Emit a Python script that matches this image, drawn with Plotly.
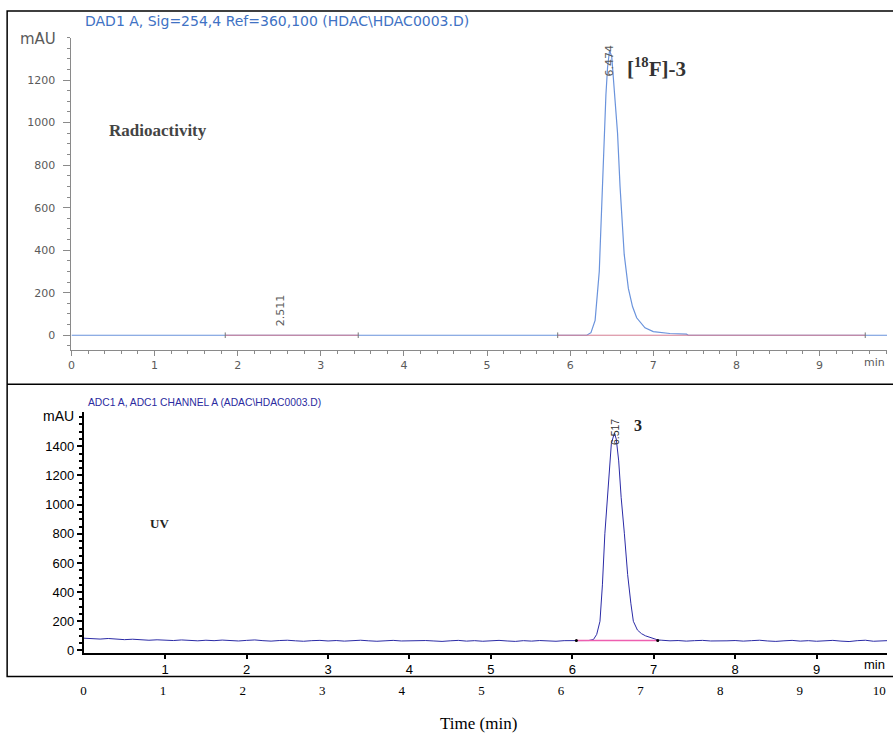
import numpy as np
import plotly.graph_objects as go

W, H = 893, 733

# ---------------- data ----------------
# Radioactivity trace (top panel)
rad_time = [0.0, 1.85, 2.511, 3.45, 5.85, 6.20, 6.25, 6.30, 6.35, 6.40, 6.43, 6.45, 6.474, 6.50,
            6.53, 6.57, 6.60, 6.65, 6.70, 6.75, 6.80, 6.90, 7.00, 7.20, 7.40, 7.42, 9.9]
rad_mau = [0, 0, 1, 0, 0, 0, 12, 70, 300, 850, 1130, 1260, 1340, 1310,
           1170, 950, 700, 380, 220, 135, 82, 35, 17, 8, 5, 0, 0]
rad_baselines = [(1.85, 3.45), (5.85, 9.55)]
rad_peaks = [(2.511, "2.511", 118), (6.474, "6.474", 1290)]

# UV trace (bottom panel)
uv_base_time = np.round(np.arange(0, 9.95, 0.1), 2)
uv_base_mau = [84, 80, 78, 82, 76, 74, 77, 72, 70, 73,
               71, 68, 72, 69, 66, 70, 67, 71, 68, 65,
               69, 72, 67, 64, 68, 70, 66, 63, 67, 69,
               65, 68, 64, 67, 70, 66, 63, 66, 69, 65,
               67, 64, 68, 65, 62, 66, 69, 64, 67, 63,
               66, 69, 65, 62, 67, 64, 68, 65, 63, 67,
               66, 70, 68, 69, 67, 66, 70, 68, 67, 69,
               71, 70, 66, 68, 64, 67, 69, 65, 63, 66,
               68, 64, 67, 70, 65, 62, 66, 69, 64, 67,
               63, 66, 69, 64, 61, 67, 70, 63, 66, 68]
uv_peak_time = [6.20, 6.26, 6.30, 6.34, 6.37, 6.40, 6.44, 6.48, 6.517, 6.54, 6.57, 6.60, 6.64,
                6.68, 6.72, 6.75, 6.80, 6.85, 6.90, 6.95, 7.00, 7.05]
uv_peak_mau = [68, 75, 110, 200, 450, 800, 1150, 1420, 1490, 1450, 1300, 1050, 800,
               520, 320, 200, 140, 115, 100, 90, 80, 72]
uv_baseline = (6.05, 7.05, 68)
uv_peak = (6.517, "6.517", 1500)

top_yticks = [0, 200, 400, 600, 800, 1000, 1200]
bot_yticks = [0, 200, 400, 600, 800, 1000, 1200, 1400]
top_xticks = [0, 1, 2, 3, 4, 5, 6, 7, 8, 9]
bot_xticks = [1, 2, 3, 4, 5, 6, 7, 8, 9]
time_ticks = [0, 1, 2, 3, 4, 5, 6, 7, 8, 9, 10]

# ---------------- geometry helpers ----------------
# the photographed page comes out slightly shrunk; map target pixels to layout pixels
SC = 0.9925

def rx(x):
    return (x - 3.35) / SC

def ry(y):
    return y / SC

def px(x):
    return rx(x) / W

def py(y):
    return 1 - ry(y) / H

# top panel axes
tx0, tx9 = rx(72), rx(822)
tsx = (tx9 - tx0) / 9
ty0, ty1200 = ry(335), ry(80)
tsy = (ty0 - ty1200) / 1200
top_xrange = [0, (W - tx0) / tsx]
top_ydom = [1 - ry(350) / H, 1 - ry(37.5) / H]
top_yrange = [-(ry(350) - ty0) / tsy, (ty0 - ry(37.5)) / tsy]

# bottom panel axes
bx1, bx9 = rx(166), rx(819)
bsx = (bx9 - bx1) / 8
bx0 = bx1 - bsx
by0, by1400 = ry(650), ry(446)
bsy = (by0 - by1400) / 1400
bot_xrange = [0, (W - bx0) / bsx]
bot_ydom = [1 - ry(652.2) / H, 1 - ry(411.4) / H]
bot_yrange = [-(ry(652.2) - by0) / bsy, (by0 - ry(411.4)) / bsy]

fig = go.Figure()

# top trace
fig.add_trace(go.Scatter(x=rad_time, y=rad_mau, mode="lines",
                         line=dict(color="#6a93dc", width=1.2),
                         xaxis="x", yaxis="y", hoverinfo="skip"))
for a, b in rad_baselines:
    fig.add_trace(go.Scatter(x=[a, b], y=[0, 0], mode="lines",
                             line=dict(color="#d47d92", width=1),
                             xaxis="x", yaxis="y", hoverinfo="skip"))
fig.add_trace(go.Scatter(x=[e for ab in rad_baselines for e in ab], y=[0] * 4,
                         mode="markers", marker=dict(symbol="line-ns", size=4,
                                                     line=dict(color="#777", width=1)),
                         xaxis="x", yaxis="y", hoverinfo="skip"))

# bottom trace
bt = list(uv_base_time)
uv_t = [t for t in bt if t < uv_peak_time[0]] + uv_peak_time + [t for t in bt if t > uv_peak_time[-1]]
uv_v = [v for t, v in zip(bt, uv_base_mau) if t < uv_peak_time[0]] + uv_peak_mau + \
       [v for t, v in zip(bt, uv_base_mau) if t > uv_peak_time[-1]]
fig.add_trace(go.Scatter(x=uv_t, y=uv_v, mode="lines",
                         line=dict(color="#2b2ba6", width=1),
                         xaxis="x2", yaxis="y2", hoverinfo="skip"))
fig.add_trace(go.Scatter(x=[uv_baseline[0], uv_baseline[1]], y=[uv_baseline[2]] * 2,
                         mode="lines+markers", line=dict(color="#ee5fb0", width=1.5),
                         marker=dict(color="black", size=3),
                         xaxis="x2", yaxis="y2", hoverinfo="skip"))

# dummy trace for the time axis row
fig.add_trace(go.Scatter(x=[0, 10], y=[0, 0], mode="lines", line=dict(width=0),
                         xaxis="x3", yaxis="y3", hoverinfo="skip", showlegend=False))

gray = "#5a5a5a"
tickfont_top = dict(family="DejaVu Sans", size=11, color=gray)
tickfont_bot = dict(family="Liberation Sans, Arial", size=13, color="black")

fig.update_layout(
    width=W, height=H, margin=dict(l=0, r=0, t=0, b=0),
    paper_bgcolor="white", plot_bgcolor="white", showlegend=False,
    xaxis=dict(domain=[tx0 / W, 1], range=top_xrange, anchor="y",
               tickvals=top_xticks, showgrid=False, zeroline=False,
               showline=True, linecolor="#8a8a8a", linewidth=1,
               ticks="outside", ticklen=5, tickcolor="#8a8a8a",
               minor=dict(dtick=0.2, tick0=0, ticks="outside", ticklen=3, tickcolor="#8a8a8a"),
               tickfont=tickfont_top),
    yaxis=dict(domain=top_ydom, range=top_yrange, anchor="x",
               tickvals=top_yticks, showgrid=False, zeroline=False,
               showline=True, linecolor="#8a8a8a", linewidth=1,
               ticks="outside", ticklen=7, tickcolor="#8a8a8a", ticklabelstandoff=6,
               minor=dict(dtick=50, tick0=0, ticks="outside", ticklen=3, tickcolor="#8a8a8a"),
               tickfont=tickfont_top),
    xaxis2=dict(domain=[bx0 / W, 1], range=bot_xrange, anchor="y2",
                tickvals=bot_xticks, showgrid=False, zeroline=False,
                showline=True, linecolor="black", linewidth=2,
                ticks="outside", ticklen=4, tickwidth=2, tickcolor="black",
                tickfont=tickfont_bot),
    yaxis2=dict(domain=bot_ydom, range=bot_yrange, anchor="x2",
                tickvals=bot_yticks, showgrid=False, zeroline=False,
                showline=True, linecolor="black", linewidth=2,
                ticks="outside", ticklen=5, tickwidth=2, tickcolor="black",
                minor=dict(dtick=50, tick0=0, ticks="outside", ticklen=3, tickcolor="black"),
                tickfont=tickfont_bot),
    xaxis3=dict(domain=[px(84), px(882)], range=[0, 10], anchor="y3",
                tickvals=time_ticks, showgrid=False, zeroline=False, showline=False,
                ticks="", ticklabeloverflow="allow",
                tickfont=dict(family="Liberation Serif, Times New Roman", size=13, color="black")),
    yaxis3=dict(domain=[py(681), py(680)], range=[0, 1], anchor="x3",
                visible=False),
)

shapes = [
    dict(type="rect", xref="paper", yref="paper", x0=px(7.5), x1=1.02, y0=py(676), y1=py(11),
         line=dict(color="black", width=1.5)),
    dict(type="line", xref="paper", yref="paper", x0=px(7.5), x1=1.02, y0=py(384), y1=py(384),
         line=dict(color="black", width=1.5)),
]
fig.update_layout(shapes=shapes)

ann = []
ann.append(dict(xref="paper", yref="paper", x=px(84), y=py(21), xanchor="left", yanchor="middle",
                text="DAD1 A, Sig=254,4 Ref=360,100 (HDAC\\HDAC0003.D)", showarrow=False,
                font=dict(family="DejaVu Sans", size=14, color="#4072c4")))
ann.append(dict(xref="paper", yref="paper", x=px(58), y=py(39), xanchor="right", yanchor="middle",
                text="mAU", showarrow=False, font=dict(family="DejaVu Sans", size=15, color=gray)))
ann.append(dict(xref="paper", yref="paper", x=1, y=py(362), xanchor="right", yanchor="middle",
                text="min", showarrow=False, font=dict(family="DejaVu Sans", size=11, color=gray)))
ann.append(dict(xref="paper", yref="paper", x=px(108), y=py(130), xanchor="left", yanchor="middle",
                text="<b>Radioactivity</b>", showarrow=False,
                font=dict(family="Liberation Serif, Times New Roman", size=17, color="#444444")))
ann.append(dict(xref="paper", yref="paper", x=px(627), y=py(67), xanchor="left", yanchor="middle",
                text="<b>[<sup>18</sup>F]-3</b>", showarrow=False,
                font=dict(family="Liberation Serif, Times New Roman", size=21, color="#333333")))
for xv, lab, yv in rad_peaks:
    ann.append(dict(xref="x", yref="y", x=xv, y=yv, xanchor="center", yanchor="middle",
                    text=lab, textangle=-90, showarrow=False,
                    font=dict(family="DejaVu Sans", size=11, color=gray)))

ann.append(dict(xref="paper", yref="paper", x=px(87), y=py(402), xanchor="left", yanchor="middle",
                text="ADC1 A, ADC1 CHANNEL A (ADAC\\HDAC0003.D)", showarrow=False,
                font=dict(family="Liberation Sans, Arial", size=10.3, color="#2b2ba0")))
ann.append(dict(xref="paper", yref="paper", x=px(77), y=py(416), xanchor="right", yanchor="middle",
                text="mAU", showarrow=False, font=dict(family="Liberation Sans, Arial", size=14, color="black")))
ann.append(dict(xref="paper", yref="paper", x=1, y=py(664), xanchor="right", yanchor="middle",
                text="min", showarrow=False, font=dict(family="Liberation Sans, Arial", size=13, color="black")))
ann.append(dict(xref="paper", yref="paper", x=px(149), y=py(523), xanchor="left", yanchor="middle",
                text="<b>UV</b>", showarrow=False,
                font=dict(family="Liberation Serif, Times New Roman", size=13, color="#222222")))
ann.append(dict(xref="paper", yref="paper", x=px(634), y=py(425), xanchor="left", yanchor="middle",
                text="<b>3</b>", showarrow=False,
                font=dict(family="Liberation Serif, Times New Roman", size=16, color="#222222")))
ann.append(dict(xref="x2", yref="y2", x=uv_peak[0], y=uv_peak[2], xanchor="center", yanchor="middle",
                text=uv_peak[1], textangle=-90, showarrow=False,
                font=dict(family="Liberation Sans, Arial", size=10.5, color="#333333")))
ann.append(dict(xref="paper", yref="paper", x=px(480), y=py(723), xanchor="center", yanchor="middle",
                text="Time (min)", showarrow=False,
                font=dict(family="Liberation Serif, Times New Roman", size=17, color="black")))
fig.update_layout(annotations=ann)

fig.write_html("out.html", config={"displayModeBar": False},
               post_script="document.body.style.margin='0px';document.body.style.overflow='hidden';")
